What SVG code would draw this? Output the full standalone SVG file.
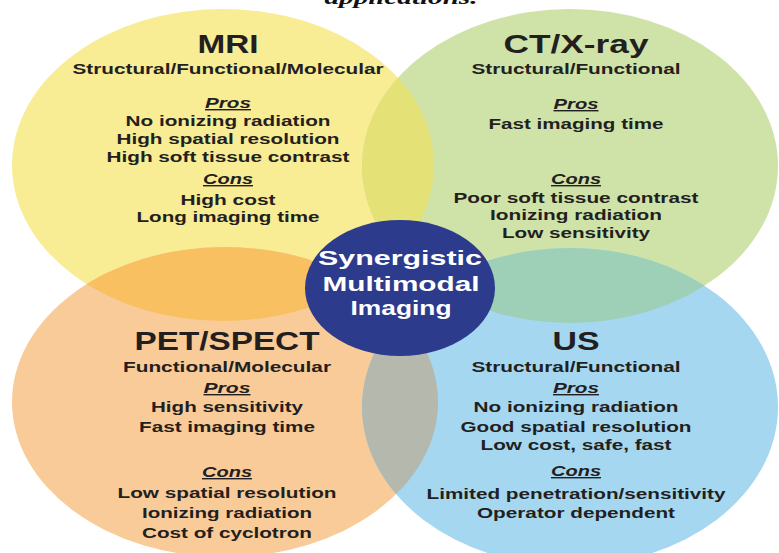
<svg xmlns="http://www.w3.org/2000/svg" width="779" height="553" viewBox="0 0 779 553">
<defs>
<style>
.t{font-family:"Liberation Sans",Arial,sans-serif;font-weight:bold;fill:#231F20;text-anchor:middle}
.h{font-size:25px}
.b{font-size:14px}
.pc{font-size:14px;font-style:italic;text-decoration:underline}
.w{font-size:21px;fill:#FFFFFF}
.cap{font-family:"Liberation Serif","Times New Roman",serif;font-weight:bold;font-style:italic;font-size:18px;fill:#111;text-anchor:middle}
</style>
<clipPath id="cMRI"><ellipse cx="223" cy="165" rx="211" ry="156"/></clipPath>
<clipPath id="cPET"><ellipse cx="225" cy="402" rx="213" ry="155"/></clipPath>
<clipPath id="cUS"><ellipse cx="570" cy="407" rx="208" ry="159"/></clipPath>
</defs>
<rect width="779" height="553" fill="#FFFFFF"/>
<text class="cap" x="401" y="4" textLength="153" lengthAdjust="spacingAndGlyphs">applications.</text>

<g id="mri">
<ellipse cx="223" cy="165" rx="211" ry="156" fill="#F8EC94"/>
<text class="t h" x="228" y="53" textLength="61" lengthAdjust="spacingAndGlyphs">MRI</text>
<text class="t b" x="228" y="74" textLength="311" lengthAdjust="spacingAndGlyphs">Structural/Functional/Molecular</text>
<text class="t pc" x="228" y="108" textLength="46" lengthAdjust="spacingAndGlyphs">Pros</text>
<text class="t b" x="228" y="126" textLength="205" lengthAdjust="spacingAndGlyphs">No ionizing radiation</text>
<text class="t b" x="228" y="144" textLength="223" lengthAdjust="spacingAndGlyphs">High spatial resolution</text>
<text class="t b" x="228" y="162" textLength="243" lengthAdjust="spacingAndGlyphs">High soft tissue contrast</text>
<text class="t pc" x="228" y="184" textLength="50" lengthAdjust="spacingAndGlyphs">Cons</text>
<text class="t b" x="228" y="205" textLength="95" lengthAdjust="spacingAndGlyphs">High cost</text>
<text class="t b" x="228" y="222" textLength="183" lengthAdjust="spacingAndGlyphs">Long imaging time</text>
</g>

<g id="ct">
<ellipse cx="570" cy="166" rx="208" ry="157" fill="#CFE2A8"/>
<text class="t h" x="576" y="53" textLength="145" lengthAdjust="spacingAndGlyphs">CT/X-ray</text>
<text class="t b" x="576" y="74" textLength="209" lengthAdjust="spacingAndGlyphs">Structural/Functional</text>
<text class="t pc" x="576" y="109" textLength="45" lengthAdjust="spacingAndGlyphs">Pros</text>
<text class="t b" x="576" y="129" textLength="175" lengthAdjust="spacingAndGlyphs">Fast imaging time</text>
<text class="t pc" x="576" y="184" textLength="50" lengthAdjust="spacingAndGlyphs">Cons</text>
<text class="t b" x="576" y="203" textLength="245" lengthAdjust="spacingAndGlyphs">Poor soft tissue contrast</text>
<text class="t b" x="576" y="220" textLength="172" lengthAdjust="spacingAndGlyphs">Ionizing radiation</text>
<text class="t b" x="576" y="238" textLength="148" lengthAdjust="spacingAndGlyphs">Low sensitivity</text>
</g>

<g id="pet">
<ellipse cx="225" cy="402" rx="213" ry="155" fill="#F9CB98"/>
<text class="t h" x="227" y="350" textLength="185" lengthAdjust="spacingAndGlyphs">PET/SPECT</text>
<text class="t b" x="227" y="372" textLength="208" lengthAdjust="spacingAndGlyphs">Functional/Molecular</text>
<text class="t pc" x="227" y="393" textLength="47" lengthAdjust="spacingAndGlyphs">Pros</text>
<text class="t b" x="227" y="412" textLength="152" lengthAdjust="spacingAndGlyphs">High sensitivity</text>
<text class="t b" x="227" y="432" textLength="176" lengthAdjust="spacingAndGlyphs">Fast imaging time</text>
<text class="t pc" x="227" y="477" textLength="50" lengthAdjust="spacingAndGlyphs">Cons</text>
<text class="t b" x="227" y="498" textLength="219" lengthAdjust="spacingAndGlyphs">Low spatial resolution</text>
<text class="t b" x="227" y="518" textLength="170" lengthAdjust="spacingAndGlyphs">Ionizing radiation</text>
<text class="t b" x="227" y="538" textLength="170" lengthAdjust="spacingAndGlyphs">Cost of cyclotron</text>
</g>

<g id="us">
<ellipse cx="570" cy="407" rx="208" ry="159" fill="#A6D7F0"/>
<text class="t h" x="576" y="350" textLength="47" lengthAdjust="spacingAndGlyphs">US</text>
<text class="t b" x="576" y="372" textLength="209" lengthAdjust="spacingAndGlyphs">Structural/Functional</text>
<text class="t pc" x="576" y="393" textLength="46" lengthAdjust="spacingAndGlyphs">Pros</text>
<text class="t b" x="576" y="412" textLength="205" lengthAdjust="spacingAndGlyphs">No ionizing radiation</text>
<text class="t b" x="576" y="432" textLength="231" lengthAdjust="spacingAndGlyphs">Good spatial resolution</text>
<text class="t b" x="576" y="450" textLength="191" lengthAdjust="spacingAndGlyphs">Low cost, safe, fast</text>
<text class="t pc" x="576" y="476" textLength="50" lengthAdjust="spacingAndGlyphs">Cons</text>
<text class="t b" x="576" y="499" textLength="299" lengthAdjust="spacingAndGlyphs">Limited penetration/sensitivity</text>
<text class="t b" x="576" y="518" textLength="198" lengthAdjust="spacingAndGlyphs">Operator dependent</text>
</g>

<g id="overlaps">
<ellipse cx="570" cy="166" rx="208" ry="157" fill="#E4E277" clip-path="url(#cMRI)"/>
<ellipse cx="225" cy="402" rx="213" ry="155" fill="#F9C062" clip-path="url(#cMRI)"/>
<ellipse cx="570" cy="166" rx="208" ry="157" fill="#9ED0B8" clip-path="url(#cUS)"/>
<ellipse cx="570" cy="407" rx="208" ry="159" fill="#B4B8AD" clip-path="url(#cPET)"/>
</g>

<g id="center">
<ellipse cx="400" cy="288" rx="95" ry="68" fill="#2D3B8C"/>
<text class="t w" x="400" y="265" textLength="164" lengthAdjust="spacingAndGlyphs">Synergistic</text>
<text class="t w" x="401" y="291" textLength="157" lengthAdjust="spacingAndGlyphs">Multimodal</text>
<text class="t w" x="401" y="315" textLength="101" lengthAdjust="spacingAndGlyphs">Imaging</text>
</g>
</svg>
